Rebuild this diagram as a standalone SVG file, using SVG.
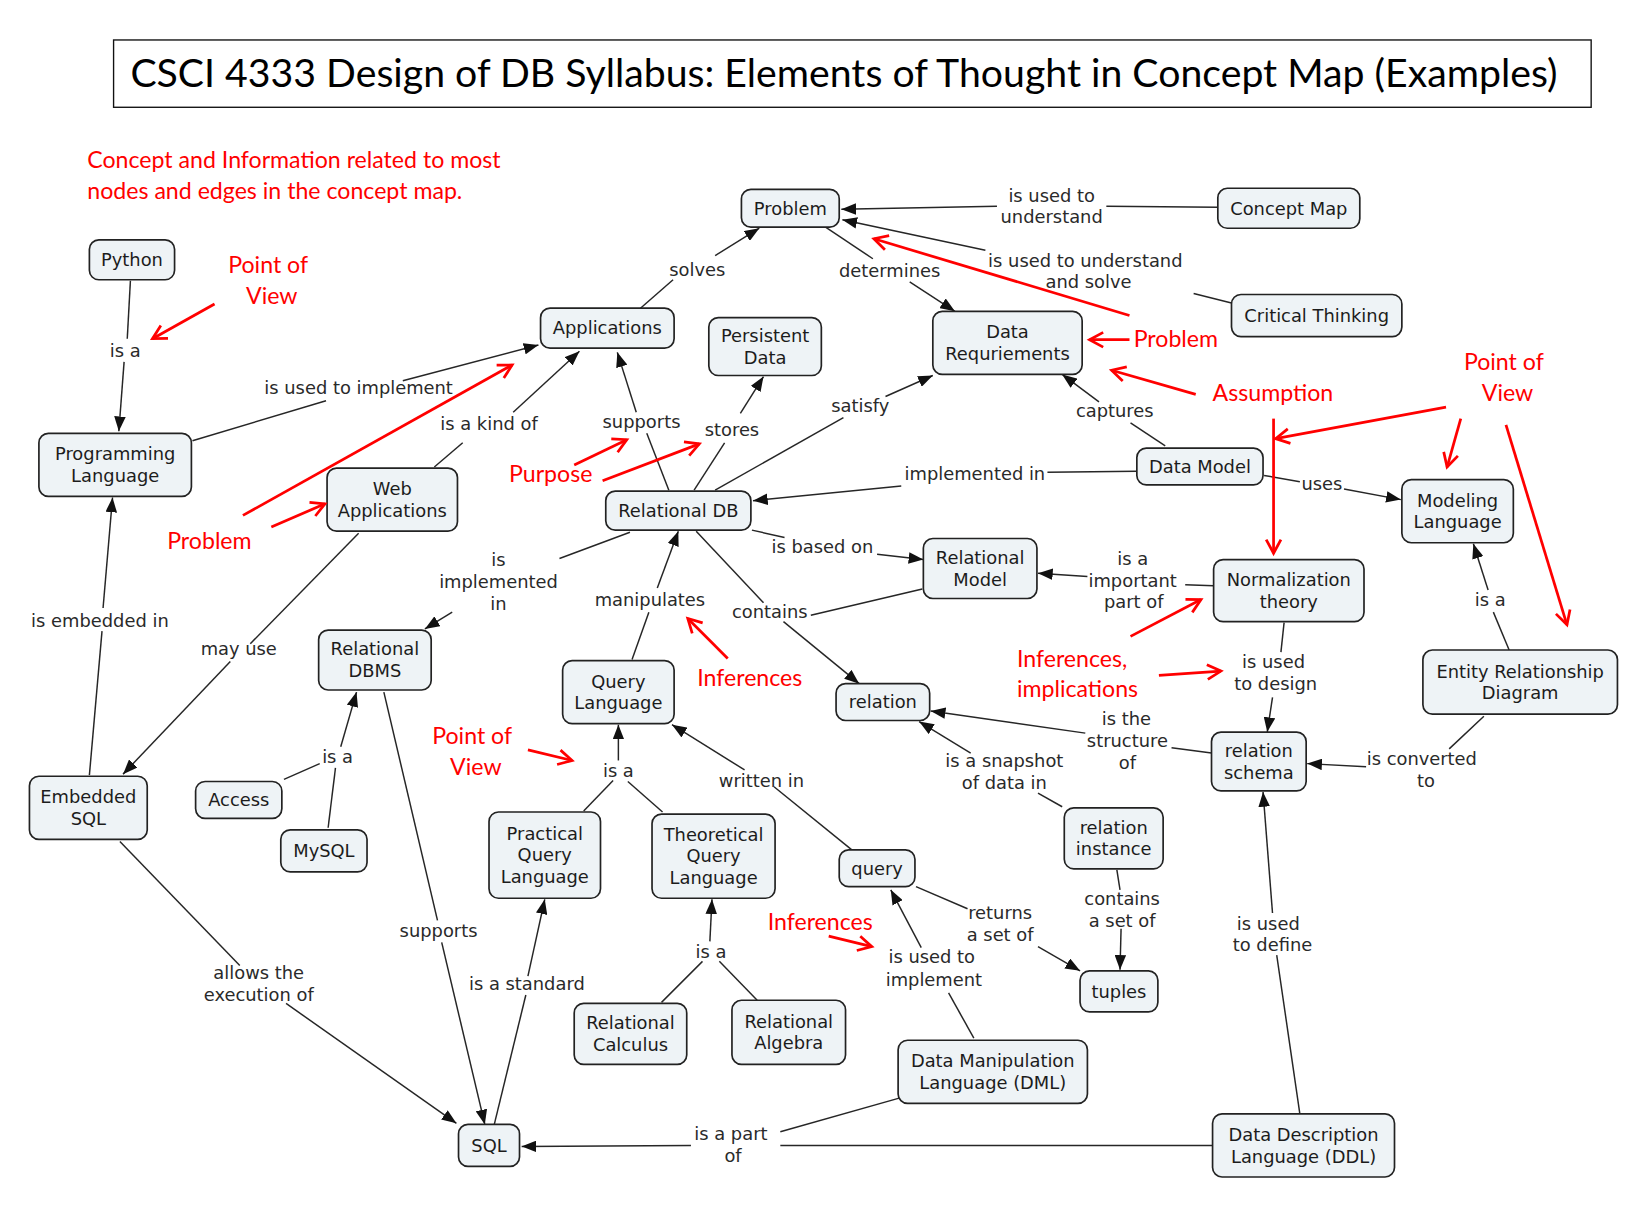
<svg xmlns="http://www.w3.org/2000/svg" width="1649" height="1218" viewBox="0 0 1649 1218">
<style>
.nb{fill:#eef3f6;stroke:#222;stroke-width:1.6}
.nt{font-family:"DejaVu Sans",Verdana,sans-serif;font-size:17px;fill:#1c1c1c;text-anchor:middle}
.lb{font-family:"DejaVu Sans",Verdana,sans-serif;font-size:17px;fill:#2a2a2a;text-anchor:middle}
.ln{fill:none;stroke:#262626;stroke-width:1.4}
.ar{marker-end:url(#ah)}
.rl{fill:none;stroke:#ff0000;stroke-width:2.6;marker-end:url(#rh)}
.rt{font-family:Lato,"Open Sans",sans-serif;font-size:22px;fill:#ff0000}
</style>
<defs>
<marker id="ah" viewBox="0 0 14 11" refX="14" refY="5.5" markerWidth="14" markerHeight="11" markerUnits="userSpaceOnUse" orient="auto"><path d="M0,0 L14,5.5 L0,11 z" fill="#111"/></marker>
<marker id="rh" viewBox="0 0 16 16" refX="14" refY="8" markerWidth="16" markerHeight="16" markerUnits="userSpaceOnUse" orient="auto" overflow="visible"><path d="M1,1 L14,8 L1,15" fill="none" stroke="#ff0000" stroke-width="2.6"/></marker>
</defs>
<rect width="1649" height="1218" fill="#fff"/>
<g transform="scale(1.05166,1.05181)">
<g id="title">
<rect x="108" y="38" width="1405" height="64" fill="#fff" stroke="#111" stroke-width="1.3"/>
<text x="124" y="83" font-family="Lato,'Open Sans',sans-serif" font-size="37" fill="#000" textLength="1357" lengthAdjust="spacingAndGlyphs">CSCI 4333 Design of DB Syllabus: Elements of Thought in Concept Map (Examples)</text>
</g>
<g id="connectors">
<path class="ln" d="M124,267 L121,322"/><path class="ln ar" d="M118,344 L113,410"/>
<path class="ln" d="M183,419 L310,381"/><path class="ln ar" d="M383,362 L512,328"/>
<path class="ln" d="M413,444 L440,421"/><path class="ln ar" d="M488,392 L551,334"/>
<path class="ln" d="M609,293 L640,266"/><path class="ln ar" d="M680,243 L722,217"/>
<path class="ln" d="M785,216 L830,246"/><path class="ln ar" d="M865,268 L908,296"/>
<path class="ln" d="M1158,197 L1052,196"/><path class="ln ar" d="M948,196 L800,199"/>
<path class="ln" d="M1171,288 L1135,279"/><path class="ln ar" d="M937,238 L801,209"/>
<path class="ln" d="M636,466 L615,412"/><path class="ln ar" d="M605,392 L587,335"/>
<path class="ln" d="M660,466 L689,421"/><path class="ln ar" d="M704,393 L726,358"/>
<path class="ln" d="M680,466 L802,397"/><path class="ln ar" d="M842,377 L887,357"/>
<path class="ln" d="M1081,448 L996,449"/><path class="ln ar" d="M857,462 L716,476"/>
<path class="ln" d="M1108,424 L1075,402"/><path class="ln ar" d="M1045,382 L1010,356"/>
<path class="ln" d="M1202,452 L1236,458"/><path class="ln ar" d="M1278,465 L1332,475"/>
<path class="ln" d="M715,504 L746,511"/><path class="ln ar" d="M834,527 L878,532"/>
<path class="ln" d="M662,505 L726,573"/><path class="ln" d="M877,560 L771,585"/><path class="ln ar" d="M745,591 L817,650"/>
<path class="ln" d="M1154,557 L1127,556"/><path class="ln ar" d="M1034,548 L987,545"/>
<path class="ln" d="M1221,592 L1218,620"/><path class="ln ar" d="M1210,663 L1205,696"/>
<path class="ln" d="M1152,716 L1114,711"/><path class="ln ar" d="M1032,697 L885,676"/>
<path class="ln" d="M1010,767 L987,754"/><path class="ln ar" d="M923,716 L874,686"/>
<path class="ln" d="M1062,827 L1065,846"/><path class="ln ar" d="M1066,883 L1065,922"/>
<path class="ln" d="M871,843 L920,864"/><path class="ln ar" d="M987,900 L1027,923"/>
<path class="ln" d="M926,987 L902,944"/><path class="ln ar" d="M876,901 L847,846"/>
<path class="ln" d="M810,808 L736,748"/><path class="ln ar" d="M708,732 L639,689"/>
<path class="ln" d="M555,771 L583,742"/><path class="ln" d="M630,772 L597,743"/><path class="ln ar" d="M588,723 L588,689"/>
<path class="ln" d="M629,953 L668,914"/><path class="ln" d="M720,951 L684,914"/><path class="ln ar" d="M675,895 L677,855"/>
<path class="ln" d="M601,627 L617,582"/><path class="ln ar" d="M625,559 L645,505"/>
<path class="ln" d="M599,506 L532,531"/><path class="ln ar" d="M430,582 L404,598"/>
<path class="ln" d="M341,507 L238,612"/><path class="ln ar" d="M219,629 L117,736"/>
<path class="ln" d="M85,737 L97,600"/><path class="ln ar" d="M98,578 L107,473"/>
<path class="ln" d="M270,741 L304,726"/><path class="ln" d="M312,787 L319,730"/><path class="ln ar" d="M324,710 L339,658"/>
<path class="ln" d="M365,658 L416,875"/><path class="ln ar" d="M420,896 L461,1069"/>
<path class="ln" d="M470,1069 L500,946"/><path class="ln ar" d="M502,928 L518,855"/>
<path class="ln" d="M114,800 L228,918"/><path class="ln ar" d="M272,954 L434,1068"/>
<path class="ln" d="M855,1044 L742,1076"/><path class="ln" d="M1154,1089 L742,1089"/><path class="ln ar" d="M657,1089 L496,1090"/>
<path class="ln" d="M1236,1059 L1214,908"/><path class="ln ar" d="M1210,868 L1201,753"/>
<path class="ln" d="M1435,618 L1420,582"/><path class="ln ar" d="M1415,561 L1401,517"/>
<path class="ln" d="M1411,681 L1378,712"/><path class="ln ar" d="M1299,729 L1243,726"/>
<text class="lb" x="119" y="339">is a</text>
<text class="lb" x="341" y="375">is used to implement</text>
<text class="lb" x="465" y="409">is a kind of</text>
<text class="lb" x="663" y="262">solves</text>
<text class="lb" x="846" y="263">determines</text>
<text class="lb" x="1000" y="192">is used to<tspan x="1000" y="212">understand</tspan></text>
<text class="lb" x="1032" y="254">is used to understand<tspan x="1035" y="274">and solve</tspan></text>
<text class="lb" x="610" y="407">supports</text>
<text class="lb" x="696" y="415">stores</text>
<text class="lb" x="818" y="392">satisfy</text>
<text class="lb" x="927" y="456">implemented in</text>
<text class="lb" x="1060" y="396">captures</text>
<text class="lb" x="1257" y="466">uses</text>
<text class="lb" x="782" y="526">is based on</text>
<text class="lb" x="732" y="588">contains</text>
<text class="lb" x="1077" y="537">is a<tspan x="1077" y="558">important</tspan><tspan x="1078" y="578">part of</tspan></text>
<text class="lb" x="1211" y="635">is used<tspan x="1213" y="656">to design</tspan></text>
<text class="lb" x="1071" y="689">is the<tspan x="1072" y="710">structure</tspan><tspan x="1072" y="731">of</tspan></text>
<text class="lb" x="955" y="729">is a snapshot<tspan x="955" y="750">of data in</tspan></text>
<text class="lb" x="1067" y="860">contains<tspan x="1067" y="881">a set of</tspan></text>
<text class="lb" x="951" y="874">returns<tspan x="951" y="895">a set of</tspan></text>
<text class="lb" x="886" y="916">is used to<tspan x="888" y="937">implement</tspan></text>
<text class="lb" x="724" y="748">written in</text>
<text class="lb" x="588" y="739">is a</text>
<text class="lb" x="676" y="911">is a</text>
<text class="lb" x="618" y="576">manipulates</text>
<text class="lb" x="474" y="538">is<tspan x="474" y="559">implemented</tspan><tspan x="474" y="580">in</tspan></text>
<text class="lb" x="227" y="623">may use</text>
<text class="lb" x="95" y="596">is embedded in</text>
<text class="lb" x="321" y="725">is a</text>
<text class="lb" x="417" y="891">supports</text>
<text class="lb" x="501" y="941">is a standard</text>
<text class="lb" x="246" y="931">allows the<tspan x="246" y="952">execution of</tspan></text>
<text class="lb" x="695" y="1084">is a part<tspan x="697" y="1105">of</tspan></text>
<text class="lb" x="1206" y="884">is used<tspan x="1210" y="904">to define</tspan></text>
<text class="lb" x="1417" y="576">is a</text>
<text class="lb" x="1352" y="727">is converted<tspan x="1356" y="748">to</tspan></text>
</g>
<g id="n-python"><rect class="nb" x="85" y="228" width="81" height="38" rx="9"/><text class="nt" x="125.5" y="253">Python</text></g>
<g id="n-proglang"><rect class="nb" x="37" y="412" width="145" height="60" rx="9"/><text class="nt" x="109.5" y="437.7">Programming<tspan x="109.5" y="458.3">Language</tspan></text></g>
<g id="n-applications"><rect class="nb" x="514" y="293" width="127" height="38" rx="9"/><text class="nt" x="577.5" y="318">Applications</text></g>
<g id="n-problem"><rect class="nb" x="705" y="180" width="93" height="36" rx="9"/><text class="nt" x="751.5" y="204">Problem</text></g>
<g id="n-conceptmap"><rect class="nb" x="1158" y="179" width="135" height="38" rx="9"/><text class="nt" x="1225.5" y="204">Concept Map</text></g>
<g id="n-critical"><rect class="nb" x="1171" y="280" width="162" height="40" rx="9"/><text class="nt" x="1252" y="306">Critical Thinking</text></g>
<g id="n-persistent"><rect class="nb" x="674" y="302" width="107" height="55" rx="9"/><text class="nt" x="727.5" y="325.2">Persistent<tspan x="727.5" y="345.8">Data</tspan></text></g>
<g id="n-datareq"><rect class="nb" x="887" y="296" width="142" height="60" rx="9"/><text class="nt" x="958" y="321.7">Data<tspan x="958" y="342.3">Requriements</tspan></text></g>
<g id="n-webapps"><rect class="nb" x="311" y="445" width="124" height="60" rx="9"/><text class="nt" x="373" y="470.7">Web<tspan x="373" y="491.3">Applications</tspan></text></g>
<g id="n-reldb"><rect class="nb" x="576" y="467" width="138" height="37" rx="9"/><text class="nt" x="645" y="491.5">Relational DB</text></g>
<g id="n-datamodel"><rect class="nb" x="1081" y="426" width="120" height="35" rx="9"/><text class="nt" x="1141" y="449.5">Data Model</text></g>
<g id="n-modeling"><rect class="nb" x="1333" y="456" width="106" height="60" rx="9"/><text class="nt" x="1386" y="481.7">Modeling<tspan x="1386" y="502.3">Language</tspan></text></g>
<g id="n-relmodel"><rect class="nb" x="878" y="512" width="108" height="57" rx="9"/><text class="nt" x="932" y="536.2">Relational<tspan x="932" y="556.8">Model</tspan></text></g>
<g id="n-normalization"><rect class="nb" x="1154" y="532" width="143" height="59" rx="9"/><text class="nt" x="1225.5" y="557.2">Normalization<tspan x="1225.5" y="577.8">theory</tspan></text></g>
<g id="n-reldbms"><rect class="nb" x="303" y="599" width="107" height="57" rx="9"/><text class="nt" x="356.5" y="623.2">Relational<tspan x="356.5" y="643.8">DBMS</tspan></text></g>
<g id="n-querylang"><rect class="nb" x="535" y="628" width="106" height="60" rx="9"/><text class="nt" x="588" y="653.7">Query<tspan x="588" y="674.3">Language</tspan></text></g>
<g id="n-relation"><rect class="nb" x="795" y="650" width="89" height="35" rx="9"/><text class="nt" x="839.5" y="673.5">relation</text></g>
<g id="n-erd"><rect class="nb" x="1353" y="618" width="185" height="61" rx="9"/><text class="nt" x="1445.5" y="644.2">Entity Relationship<tspan x="1445.5" y="664.8">Diagram</tspan></text></g>
<g id="n-relschema"><rect class="nb" x="1152" y="696" width="90" height="56" rx="9"/><text class="nt" x="1197" y="719.7">relation<tspan x="1197" y="740.3">schema</tspan></text></g>
<g id="n-embedded"><rect class="nb" x="28" y="738" width="112" height="60" rx="9"/><text class="nt" x="84" y="763.7">Embedded<tspan x="84" y="784.3">SQL</tspan></text></g>
<g id="n-access"><rect class="nb" x="186" y="743" width="82" height="35" rx="9"/><text class="nt" x="227" y="766.5">Access</text></g>
<g id="n-mysql"><rect class="nb" x="267" y="789" width="82" height="40" rx="9"/><text class="nt" x="308" y="815">MySQL</text></g>
<g id="n-practical"><rect class="nb" x="465" y="772" width="106" height="82" rx="9"/><text class="nt" x="518" y="798.4">Practical<tspan x="518" y="819">Query</tspan><tspan x="518" y="839.6">Language</tspan></text></g>
<g id="n-theoretical"><rect class="nb" x="620" y="774" width="117" height="80" rx="9"/><text class="nt" x="678.5" y="799.4">Theoretical<tspan x="678.5" y="820">Query</tspan><tspan x="678.5" y="840.6">Language</tspan></text></g>
<g id="n-query"><rect class="nb" x="798" y="808" width="72" height="35" rx="9"/><text class="nt" x="834" y="831.5">query</text></g>
<g id="n-relinstance"><rect class="nb" x="1012" y="768" width="94" height="58" rx="9"/><text class="nt" x="1059" y="792.7">relation<tspan x="1059" y="813.3">instance</tspan></text></g>
<g id="n-tuples"><rect class="nb" x="1027" y="923" width="74" height="39" rx="9"/><text class="nt" x="1064" y="948.5">tuples</text></g>
<g id="n-relcalc"><rect class="nb" x="546" y="954" width="107" height="58" rx="9"/><text class="nt" x="599.5" y="978.7">Relational<tspan x="599.5" y="999.3">Calculus</tspan></text></g>
<g id="n-relalg"><rect class="nb" x="696" y="951" width="108" height="61" rx="9"/><text class="nt" x="750" y="977.2">Relational<tspan x="750" y="997.8">Algebra</tspan></text></g>
<g id="n-dml"><rect class="nb" x="854" y="989" width="180" height="60" rx="9"/><text class="nt" x="944" y="1014.7">Data Manipulation<tspan x="944" y="1035.3">Language (DML)</tspan></text></g>
<g id="n-sql"><rect class="nb" x="436" y="1069" width="58" height="40" rx="9"/><text class="nt" x="465" y="1095">SQL</text></g>
<g id="n-ddl"><rect class="nb" x="1153" y="1059" width="173" height="60" rx="9"/><text class="nt" x="1239.5" y="1084.7">Data Description<tspan x="1239.5" y="1105.3">Language (DDL)</tspan></text></g>
<g id="annotations">
<text class="rt" x="83" y="160">Concept and Information related to most<tspan x="83" y="189">nodes and edges in the concept map.</tspan></text>
<text class="rt" x="217" y="260">Point of<tspan x="234" y="289">View</tspan></text>
<text class="rt" x="159" y="522">Problem</text>
<text class="rt" x="484" y="458">Purpose</text>
<text class="rt" x="1078" y="330">Problem</text>
<text class="rt" x="1153" y="381">Assumption</text>
<text class="rt" x="1392" y="352">Point of<tspan x="1409" y="381">View</tspan></text>
<text class="rt" x="663" y="652">Inferences</text>
<text class="rt" x="411" y="707">Point of<tspan x="428" y="737">View</tspan></text>
<text class="rt" x="967" y="634">Inferences,<tspan x="967" y="663">implications</tspan></text>
<text class="rt" x="730" y="884">Inferences</text>
<path class="rl" d="M204,289 L145,322"/>
<path class="rl" d="M231,490 L487,347"/>
<path class="rl" d="M258,501 L309,479"/>
<path class="rl" d="M546,442 L596,418"/>
<path class="rl" d="M573,457 L665,422"/>
<path class="rl" d="M1074,323 L1036,323"/>
<path class="rl" d="M1074,300 L831,227"/>
<path class="rl" d="M1137,375 L1057,352"/>
<path class="rl" d="M1375,387 L1213,417"/>
<path class="rl" d="M1389,398 L1376,444"/>
<path class="rl" d="M1432,404 L1490,594"/>
<path class="rl" d="M1211,398 L1211,526"/>
<path class="rl" d="M692,626 L654,588"/>
<path class="rl" d="M502,713 L544,723"/>
<path class="rl" d="M1075,605 L1142,570"/>
<path class="rl" d="M1102,642 L1161,638"/>
<path class="rl" d="M788,890 L829,900"/>
</g>
</g>
</svg>
